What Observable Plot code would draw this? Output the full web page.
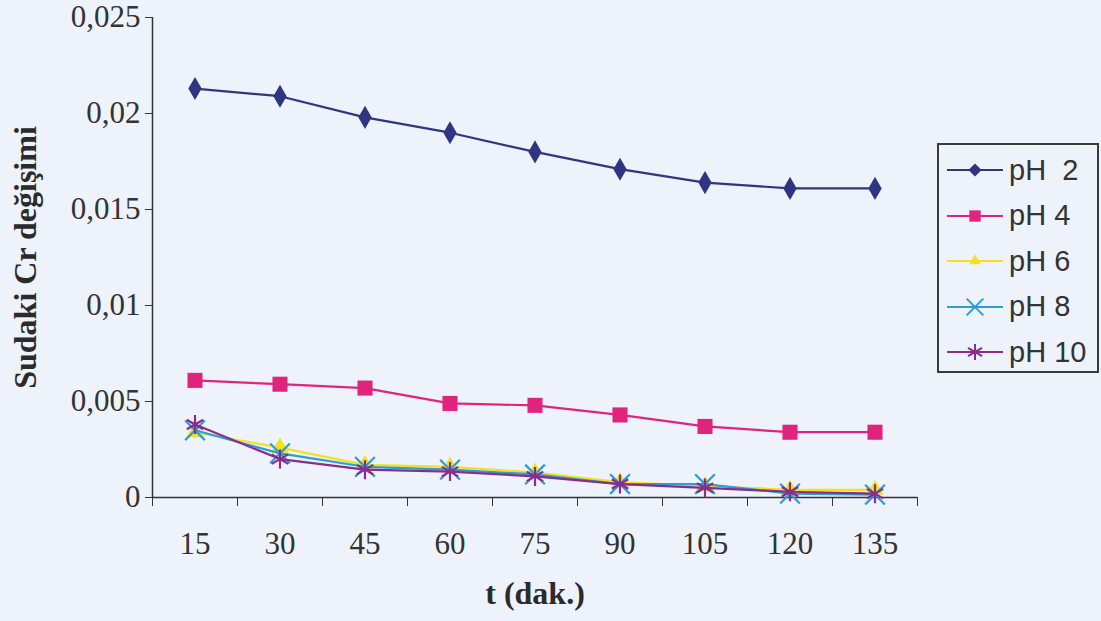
<!DOCTYPE html>
<html>
<head>
<meta charset="utf-8">
<script src="https://cdn.jsdelivr.net/npm/d3@7"></script>
<script src="https://cdn.jsdelivr.net/npm/@observablehq/plot@0.6"></script>
<style>
  html, body { margin: 0; padding: 0; background: #eef2fa; }
  #wrap { position: relative; width: 1101px; height: 621px; overflow: hidden; }
  #legend { position: absolute; left: 937px; top: 143px; width: 162px; height: 230px;
            border: 2px solid #3a3a3a; box-sizing: border-box; font-family: "Liberation Sans", Arial, sans-serif; }
  .row { position: absolute; left: 8px; height: 40px; display: flex; align-items: center; }
  .row span { font-size: 29px; color: #333; white-space: pre; margin-left: 6px; }
</style>
</head>
<body>
<div id="wrap"><div id="chart"></div><div id="legend"></div></div>
<script>
const times = [15, 30, 45, 60, 75, 90, 105, 120, 135];
const seriesNames = ["pH  2", "pH 4", "pH 6", "pH 8", "pH 10"];
const pH2  = [0.0213, 0.0209, 0.0198, 0.0190, 0.0180, 0.0171, 0.0164, 0.0161, 0.0161];
const pH4  = [0.0061, 0.0059, 0.0057, 0.0049, 0.0048, 0.0043, 0.0037, 0.0034, 0.0034];
const pH6  = [0.0034, 0.0026, 0.0017, 0.0016, 0.0013, 0.0008, 0.0006, 0.0004, 0.0004];
const pH8  = [0.0035, 0.0023, 0.0016, 0.00145, 0.0012, 0.0007, 0.0007, 0.0002, 0.00015];
const pH10 = [0.0038, 0.0020, 0.00145, 0.00135, 0.0011, 0.0007, 0.0005, 0.0003, 0.0002];
const yTicks = [0, 0.005, 0.01, 0.015, 0.02, 0.025];
const colors = ["#2f3580", "#e0247e", "#f2e21c", "#2a9ed8", "#8a2c8c"];
const symbols = ["diamond", "square", "triangle", "times", "asterisk"];
const filled = [true, true, true, false, false];
const radii = [7, 8.5, 6.5, 9, 9];
const allValues = [pH2, pH4, pH6, pH8, pH10];

const step = times[1] - times[0];
const boundaries = [times[0] - step / 2, ...times.map(t => t + step / 2)];
const fmt = v => (v === 0 ? "0" : String(+v.toFixed(3)).replace(".", ","));

const marks = [];
allValues.forEach((vals, i) => {
  const rows = times.map((t, j) => ({t, v: vals[j]}));
  marks.push(Plot.line(rows, {x: "t", y: "v", stroke: colors[i], strokeWidth: 2.2}));
  marks.push(Plot.dot(rows, filled[i]
    ? {x: "t", y: "v", symbol: () => symbols[i], fill: colors[i], r: radii[i], stroke: "none"}
    : {x: "t", y: "v", symbol: () => symbols[i], stroke: colors[i], r: radii[i], strokeWidth: 2.2, fill: "none"}));
});

const chart = Plot.plot({
  width: 1101, height: 621,
  marginLeft: 152, marginRight: 184, marginTop: 17, marginBottom: 124,
  style: {background: "transparent", fontFamily: "'Liberation Serif', 'Times New Roman', serif", color: "#333"},
  x: {domain: [boundaries[0], boundaries[boundaries.length - 1]], axis: null},
  y: {domain: [0, 0.025], axis: null},
  marks: [
    Plot.axisY({ticks: yTicks, tickFormat: fmt, tickSize: 7, tickPadding: 5, fontSize: 31, label: null, stroke: "#333"}),
    Plot.axisX({ticks: boundaries, tickFormat: () => "", tickSize: 9, label: null, stroke: "#333"}),
    Plot.axisX({ticks: times, tickFormat: d => String(d), tickSize: 0, tickPadding: 34, fontSize: 31, label: null}),
    Plot.ruleY([0], {stroke: "#333", strokeWidth: 1.5}),
    Plot.ruleX([boundaries[0]], {stroke: "#333", strokeWidth: 1.5}),
    ...marks,
    Plot.text(["t (dak.)"], {frameAnchor: "bottom", dy: 106, fontSize: 32, fontWeight: "bold", fill: "#2b2b2b"}),
    Plot.text(["Sudaki Cr değişimi"], {frameAnchor: "left", textAnchor: "middle", dx: -127, rotate: -90, fontSize: 32, fontWeight: "bold", fill: "#2b2b2b"})
  ]
});
document.getElementById("chart").appendChild(chart);

// legend
const legend = document.getElementById("legend");
const symMap = {diamond: d3.symbolDiamond2, square: d3.symbolSquare2, triangle: d3.symbolTriangle2, times: d3.symbolTimes, asterisk: d3.symbolAsterisk};
seriesNames.forEach((name, i) => {
  const row = document.createElement("div");
  row.className = "row";
  row.style.top = (5 + i * 45.5) + "px";
  const svg = d3.create("svg").attr("width", 56).attr("height", 24);
  svg.append("line").attr("x1", 0).attr("x2", 56).attr("y1", 12).attr("y2", 12).attr("stroke", colors[i]).attr("stroke-width", 2.2);
  const r = radii[i] * 0.85;
  const p = d3.symbol(symMap[symbols[i]], r * r * Math.PI)();
  const path = svg.append("path").attr("d", p).attr("transform", "translate(28,12)");
  if (filled[i]) path.attr("fill", colors[i]);
  else path.attr("fill", "none").attr("stroke", colors[i]).attr("stroke-width", 2);
  row.appendChild(svg.node());
  const s = document.createElement("span");
  s.textContent = name;
  row.appendChild(s);
  legend.appendChild(row);
});
</script>
</body>
</html>
